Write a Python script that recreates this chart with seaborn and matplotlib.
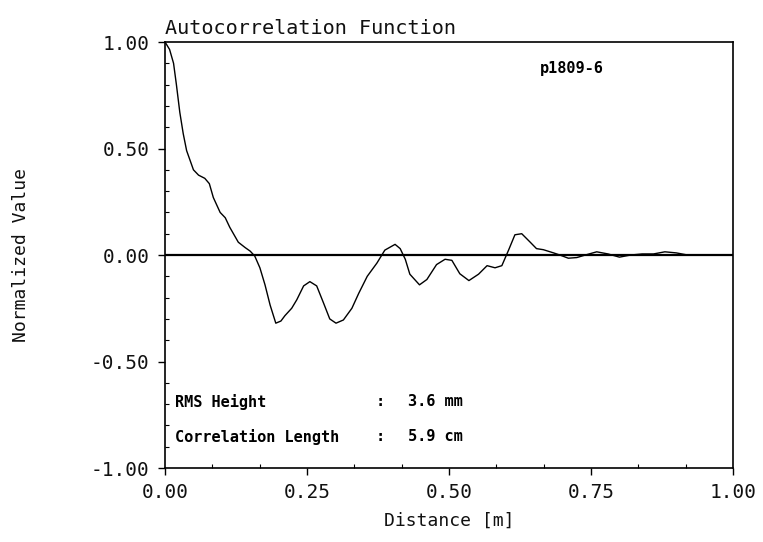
import numpy as np
import pandas as pd
import matplotlib
matplotlib.use("Agg")
import matplotlib.pyplot as plt
from matplotlib.ticker import AutoMinorLocator, FormatStrFormatter
import seaborn as sns

# Normalized autocorrelation of the surface profile p1809-6
distance_m = [0.000, 0.008, 0.015, 0.020, 0.026, 0.032, 0.038, 0.044, 0.050, 0.059,
              0.070, 0.078, 0.085, 0.097, 0.106, 0.114, 0.129, 0.141, 0.150, 0.158,
              0.167, 0.176, 0.185, 0.195, 0.204, 0.211, 0.223, 0.232, 0.244, 0.255,
              0.267, 0.279, 0.290, 0.301, 0.314, 0.329, 0.341, 0.356, 0.373, 0.387,
              0.405, 0.414, 0.423, 0.431, 0.448, 0.461, 0.478, 0.493, 0.505, 0.519,
              0.535, 0.552, 0.567, 0.581, 0.593, 0.605, 0.616, 0.628, 0.643, 0.654,
              0.666, 0.684, 0.695, 0.710, 0.725, 0.740, 0.760, 0.780, 0.800, 0.820,
              0.840, 0.860, 0.880, 0.900, 0.920, 0.950, 1.000]
acf_value = [1.000, 0.965, 0.900, 0.800, 0.670, 0.570, 0.490, 0.445, 0.400, 0.375,
             0.360, 0.335, 0.270, 0.200, 0.175, 0.130, 0.060, 0.035, 0.018, -0.005,
             -0.060, -0.140, -0.235, -0.320, -0.310, -0.285, -0.250, -0.210, -0.145, -0.125,
             -0.145, -0.225, -0.300, -0.320, -0.305, -0.250, -0.180, -0.100, -0.038, 0.023,
             0.050, 0.030, -0.020, -0.090, -0.140, -0.115, -0.045, -0.020, -0.025, -0.088,
             -0.120, -0.090, -0.050, -0.060, -0.050, 0.024, 0.095, 0.100, 0.060, 0.030,
             0.025, 0.010, 0.000, -0.015, -0.012, 0.000, 0.015, 0.005, -0.010, 0.000,
             0.005, 0.005, 0.015, 0.010, 0.000, 0.000, 0.000]

x_ticks = [0.00, 0.25, 0.50, 0.75, 1.00]
y_ticks = [-1.00, -0.50, 0.00, 0.50, 1.00]

sample_id = "p1809-6"
rms_height = "3.6 mm"
corr_length = "5.9 cm"

df = pd.DataFrame({"Distance [m]": distance_m, "Normalized Value": acf_value})

sns.set_theme(style="ticks")
mono = ["DejaVu Sans Mono", "DejaVu Sans"]
plt.rcParams["font.family"] = mono

fig = plt.figure(figsize=(7.63, 5.42), dpi=100)
ax = fig.add_axes([0.2163, 0.1365, 0.7444, 0.786])

ax.axhline(0.0, color="black", linewidth=1.6, zorder=1)
sns.lineplot(data=df, x="Distance [m]", y="Normalized Value", ax=ax,
             color="black", linewidth=1.0, zorder=2)

ax.set_xlim(0, 1)
ax.set_ylim(-1, 1)
ax.set_xticks(x_ticks)
ax.set_yticks(y_ticks)
ax.xaxis.set_major_formatter(FormatStrFormatter("%.2f"))
ax.yaxis.set_major_formatter(FormatStrFormatter("%.2f"))
ax.xaxis.set_minor_locator(AutoMinorLocator(3))
ax.yaxis.set_minor_locator(AutoMinorLocator(5))

ax.tick_params(which="major", direction="out", length=5, width=1.0,
               color="black", labelsize=14, labelcolor="#111111", pad=6)
ax.tick_params(which="minor", direction="in", length=3, width=0.8, color="black")

for side in ["left", "right", "top", "bottom"]:
    ax.spines[side].set_visible(True)
    ax.spines[side].set_color("black")
    ax.spines[side].set_linewidth(1.2)

ax.set_xlabel("Distance [m]", fontsize=13, color="#111111", labelpad=7)
ax.set_ylabel("Normalized Value", fontsize=13, color="#111111", labelpad=44)
ax.set_title("Autocorrelation Function", loc="left", fontsize=14.5,
             color="#111111", pad=6)

bold = dict(fontsize=11, fontweight="bold", color="black", family=mono,
            transform=ax.transData)
ax.text(0.66, 0.875, sample_id, ha="left", va="center", **bold)
ax.text(0.018, -0.69, "RMS Height", ha="left", va="center", **bold)
ax.text(0.37, -0.69, ":", ha="left", va="center", **bold)
ax.text(0.428, -0.69, rms_height, ha="left", va="center", **bold)
ax.text(0.018, -0.853, "Correlation Length", ha="left", va="center", **bold)
ax.text(0.37, -0.853, ":", ha="left", va="center", **bold)
ax.text(0.428, -0.853, corr_length, ha="left", va="center", **bold)

fig.savefig("out.png", dpi=100, facecolor="white")
